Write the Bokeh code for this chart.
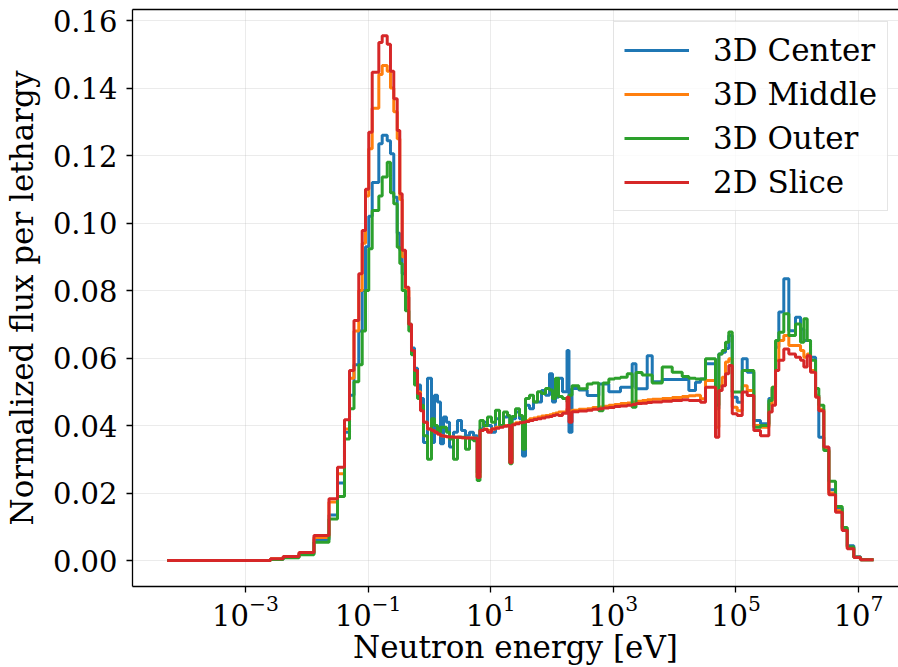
import numpy as np
from bokeh.plotting import figure
from bokeh.models import (Range1d, LinearAxis, FixedTicker, NumeralTickFormatter,
                          Legend, LegendItem)
from bokeh.embed import file_html
from bokeh.resources import INLINE

# ---- data ----
# bin edges, log10(E / eV)
log_edges = [
    -4.277, -2.592, -2.385, -2.127, -1.883, -1.638, -1.499, -1.385, -1.303, -1.230,
    -1.152, -1.096, -1.042, -0.989, -0.933, -0.825, -0.770, -0.688, -0.635, -0.581,
    -0.525, -0.483, -0.444, -0.390, -0.336, -0.292, -0.243, -0.194, -0.145, -0.096,
    -0.031, 0.034,
    0.083, 0.132, 0.181, 0.230, 0.279, 0.328, 0.393, 0.458, 0.524, 0.589,
    0.654, 0.719, 0.780, 0.825, 0.883, 0.948, 1.013, 1.078, 1.144, 1.209,
    1.274, 1.312, 1.347, 1.405, 1.470, 1.519, 1.568, 1.633, 1.698, 1.763,
    1.829, 1.894, 1.959, 2.008, 2.057, 2.106, 2.171, 2.245, 2.277, 2.326,
    2.437, 2.574, 2.661, 2.763, 2.832, 2.927, 3.020, 3.117, 3.227, 3.308,
    3.370, 3.471, 3.553, 3.635, 3.798, 3.961, 4.124, 4.232, 4.341, 4.422,
    4.504, 4.667, 4.721, 4.776, 4.830, 4.884, 4.940, 5.021, 5.103, 5.184,
    5.292, 5.401, 5.537, 5.592, 5.646, 5.700, 5.781, 5.863, 5.972, 6.054,
    6.108, 6.163, 6.217, 6.299, 6.352, 6.434, 6.516, 6.625, 6.734, 6.816,
    6.923, 7.033, 7.245,
]

center_3d = [
    0.0, 0.0004, 0.0010, 0.0020, 0.0062, 0.0135, 0.0230, 0.0380, 0.0490, 0.0580,
    0.0680, 0.0800, 0.0930, 0.1020, 0.1120, 0.1235, 0.1260, 0.1244, 0.1205, 0.1076,
    0.0970, 0.0920, 0.0850, 0.0780, 0.0700, 0.0630, 0.0570, 0.0520, 0.0480, 0.0350,
    0.0540,
    0.0350, 0.0490, 0.0470, 0.0346, 0.0425, 0.0410, 0.0336, 0.0380, 0.0415, 0.0385,
    0.0370, 0.0380, 0.0370, 0.0260, 0.0390, 0.0410, 0.0400, 0.0380, 0.0420, 0.0400,
    0.0425, 0.0430, 0.0300, 0.0420, 0.0440, 0.0420, 0.0310, 0.0460, 0.0450, 0.0470,
    0.0470, 0.0504, 0.0490, 0.0553, 0.0470, 0.0484, 0.0540, 0.0500, 0.0622, 0.0380,
    0.0510, 0.0505, 0.0489, 0.0489, 0.0523, 0.0523, 0.0500, 0.0500, 0.0513, 0.0513,
    0.0583, 0.0509, 0.0509, 0.0607, 0.0530, 0.0536, 0.0536, 0.0536, 0.0504, 0.0528,
    0.0538, 0.0583, 0.0450, 0.0612, 0.0617, 0.0628, 0.0667, 0.0484, 0.0469, 0.0598,
    0.0558, 0.0415, 0.0405, 0.0480, 0.0509, 0.0632, 0.0736, 0.0835, 0.0681, 0.0721,
    0.0686, 0.0652, 0.0652, 0.0602, 0.0490, 0.0365, 0.0335, 0.0210, 0.0155, 0.0093,
    0.0044, 0.0011, 0.0002,
]

middle_3d = [
    0.0, 0.0005, 0.0011, 0.0022, 0.0068, 0.0173, 0.0257, 0.0390, 0.0540, 0.0680,
    0.0800, 0.0940, 0.1080, 0.1220, 0.1340, 0.1440, 0.1467, 0.1450, 0.1400, 0.1330,
    0.1250, 0.1070, 0.0900, 0.0800, 0.0700, 0.0620, 0.0560, 0.0500, 0.0450, 0.0410,
    0.0390,
    0.0385, 0.0380, 0.0375, 0.0370, 0.0368, 0.0367, 0.0366, 0.0365, 0.0365, 0.0364,
    0.0363, 0.0363, 0.0362, 0.0246, 0.0385, 0.0390, 0.0385, 0.0390, 0.0395, 0.0398,
    0.0400, 0.0400, 0.0290, 0.0405, 0.0408, 0.0410, 0.0410, 0.0415, 0.0420, 0.0422,
    0.0425, 0.0428, 0.0430, 0.0432, 0.0435, 0.0437, 0.0440, 0.0440, 0.0450, 0.0442,
    0.0445, 0.0448, 0.0450, 0.0453, 0.0455, 0.0457, 0.0460, 0.0462, 0.0465, 0.0467,
    0.0470, 0.0472, 0.0474, 0.0476, 0.0478, 0.0480, 0.0483, 0.0486, 0.0488, 0.0490,
    0.0479, 0.0533, 0.0395, 0.0518, 0.0543, 0.0588, 0.0598, 0.0454, 0.0444, 0.0518,
    0.0504, 0.0400, 0.0395, 0.0464, 0.0513, 0.0593, 0.0652, 0.0667, 0.0637, 0.0637,
    0.0622, 0.0602, 0.0612, 0.0563, 0.0489, 0.0448, 0.0330, 0.0200, 0.0148, 0.0092,
    0.0038, 0.0010, 0.0002,
]

outer_3d = [
    0.0, 0.0003, 0.0008, 0.0017, 0.0054, 0.0123, 0.0190, 0.0360, 0.0450, 0.0530,
    0.0580, 0.0680, 0.0800, 0.0924, 0.1037, 0.1080, 0.1136, 0.1180, 0.1090, 0.1057,
    0.0928, 0.0880, 0.0800, 0.0740, 0.0680, 0.0610, 0.0520, 0.0480, 0.0460, 0.0370,
    0.0300,
    0.0420, 0.0400, 0.0380, 0.0395, 0.0395, 0.0380, 0.0360, 0.0300, 0.0365, 0.0365,
    0.0330, 0.0360, 0.0355, 0.0237, 0.0415, 0.0400, 0.0425, 0.0410, 0.0445, 0.0400,
    0.0440, 0.0430, 0.0287, 0.0427, 0.0450, 0.0430, 0.0330, 0.0480, 0.0490, 0.0470,
    0.0500, 0.0495, 0.0510, 0.0505, 0.0480, 0.0540, 0.0486, 0.0480, 0.0470, 0.0490,
    0.0518, 0.0509, 0.0523, 0.0526, 0.0444, 0.0526, 0.0538, 0.0540, 0.0543, 0.0553,
    0.0454, 0.0557, 0.0550, 0.0550, 0.0526, 0.0573, 0.0558, 0.0545, 0.0540, 0.0538,
    0.0538, 0.0598, 0.0460, 0.0612, 0.0622, 0.0647, 0.0677, 0.0499, 0.0499, 0.0563,
    0.0563, 0.0395, 0.0400, 0.0474, 0.0513, 0.0652, 0.0676, 0.0731, 0.0667, 0.0701,
    0.0647, 0.0716, 0.0652, 0.0593, 0.0510, 0.0460, 0.0326, 0.0235, 0.0160, 0.0098,
    0.0040, 0.0010, 0.0002,
]

slice_2d = [
    0.0, 0.0005, 0.0012, 0.0024, 0.0074, 0.0183, 0.0276, 0.0417, 0.0563, 0.0711,
    0.0850, 0.0978, 0.1100, 0.1269, 0.1447, 0.1535, 0.1555, 0.1530, 0.1450, 0.1368,
    0.1274, 0.1087, 0.0919, 0.0810, 0.0700, 0.0622, 0.0563, 0.0495, 0.0444, 0.0410,
    0.0390,
    0.0385, 0.0380, 0.0375, 0.0370, 0.0368, 0.0367, 0.0366, 0.0365, 0.0365, 0.0364,
    0.0363, 0.0363, 0.0362, 0.0246, 0.0385, 0.0388, 0.0380, 0.0390, 0.0392, 0.0395,
    0.0398, 0.0400, 0.0290, 0.0402, 0.0405, 0.0408, 0.0410, 0.0412, 0.0415, 0.0418,
    0.0420, 0.0422, 0.0425, 0.0427, 0.0430, 0.0432, 0.0430, 0.0436, 0.0484, 0.0410,
    0.0441, 0.0443, 0.0445, 0.0448, 0.0450, 0.0452, 0.0453, 0.0456, 0.0458, 0.0460,
    0.0462, 0.0465, 0.0466, 0.0468, 0.0470, 0.0472, 0.0474, 0.0476, 0.0474, 0.0474,
    0.0469, 0.0513, 0.0365, 0.0504, 0.0518, 0.0553, 0.0578, 0.0435, 0.0430, 0.0499,
    0.0489, 0.0385, 0.0370, 0.0440, 0.0460, 0.0563, 0.0593, 0.0627, 0.0612, 0.0602,
    0.0593, 0.0573, 0.0607, 0.0558, 0.0484, 0.0444, 0.0336, 0.0195, 0.0143, 0.0089,
    0.0035, 0.0009, 0.0002,
]

series_names = ["3D Center", "3D Middle", "3D Outer", "2D Slice"]
series_values = [center_3d, middle_3d, outer_3d, slice_2d]
colors = ["#1f77b4", "#ff7f0e", "#2ca02c", "#d62728"]

x_ticks = [1e-3, 1e-1, 1e1, 1e3, 1e5, 1e7]
y_ticks = [0.00, 0.02, 0.04, 0.06, 0.08, 0.10, 0.12, 0.14, 0.16]

FONT = "DejaVu Serif"

edges = 10.0 ** np.array(log_edges)

p = figure(width=898, height=667, x_axis_type="log",
           x_range=Range1d(10 ** -4.843, 10 ** 7.652),
           y_range=Range1d(-0.0077, 0.16326),
           output_backend="svg", toolbar_location=None,
           min_border_left=132, min_border_right=0,
           min_border_top=9, min_border_bottom=81,
           background_fill_color="white", border_fill_color="white")
p.outline_line_color = None

items = []
for name, vals, c in zip(series_names, series_values, colors):
    y = list(vals) + [vals[-1]]
    r = p.step(edges, y, mode="after", line_color=c, line_width=3)
    items.append(LegendItem(label=name, renderers=[r]))

# axes
p.xaxis.ticker = FixedTicker(ticks=x_ticks, minor_ticks=[])
p.yaxis.ticker = FixedTicker(ticks=y_ticks, minor_ticks=[])
p.yaxis.formatter = NumeralTickFormatter(format="0.00")
p.xaxis.axis_label = "Neutron energy [eV]"
p.yaxis.axis_label = "Normalized flux per lethargy"

for ax in (p.xaxis[0], p.yaxis[0]):
    ax.axis_label_text_font = FONT
    ax.axis_label_text_font_style = "normal"
    ax.axis_label_text_font_size = "31px"
    ax.axis_label_text_color = "black"
    ax.major_label_text_font = FONT
    ax.major_label_text_font_size = "29px"
    ax.major_label_text_color = "black"
    ax.axis_line_color = "black"
    ax.axis_line_width = 1.3
    ax.major_tick_line_color = "black"
    ax.major_tick_line_width = 1.3
    ax.major_tick_out = 6
    ax.major_tick_in = 0
    ax.minor_tick_line_color = None

p.xaxis.major_label_standoff = 2
p.xaxis.axis_label_standoff = 0
p.yaxis.major_label_standoff = 9
p.yaxis.axis_label_standoff = 10

# top spine: an axis with no ticks and no labels
top = LinearAxis(ticker=FixedTicker(ticks=[], minor_ticks=[]),
                 major_tick_line_color=None, minor_tick_line_color=None,
                 axis_line_color="black", axis_line_width=1.3)
p.add_layout(top, "above")

p.grid.grid_line_color = "#b0b0b0"
p.grid.grid_line_alpha = 0.25
p.grid.grid_line_width = 1

legend = Legend(items=items, location=(481, 375))
legend.label_text_font = FONT
legend.label_text_font_size = "31px"
legend.label_text_color = "black"
legend.glyph_width = 65
legend.glyph_height = 30
legend.label_height = 30
legend.label_standoff = 24
legend.padding = 10
legend.spacing = 8
legend.margin = 0
legend.border_line_color = "#cccccc"
legend.border_line_width = 1
legend.background_fill_color = "white"
legend.background_fill_alpha = 0.8
p.add_layout(legend, "center")

open("out.html", "w").write(file_html(p, INLINE))
